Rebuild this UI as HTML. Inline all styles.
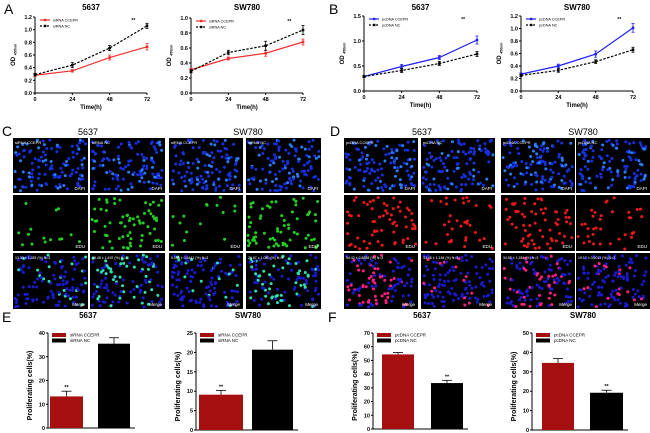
<!DOCTYPE html>
<html><head><meta charset="utf-8"><style>
body{margin:0;background:#fff;width:650px;height:433px;overflow:hidden;font-family:"Liberation Sans",Arial,sans-serif}
svg{position:absolute;left:0;top:0}
</style></head><body>
<svg id="fig" width="650" height="433" viewBox="0 0 650 433" xmlns="http://www.w3.org/2000/svg" font-family="Liberation Sans, Arial, sans-serif"></svg>
<script>
// ---- Panel A/B line chart data ----
const timeCats = [0, 24, 48, 72];
const aLeftSi = [0.28, 0.35, 0.56, 0.73];
const aLeftNc = [0.29, 0.44, 0.71, 1.06];
const aLeftSiErr = [0.02, 0.02, 0.04, 0.05];
const aLeftNcErr = [0.02, 0.04, 0.04, 0.04];
const aRightSi = [0.31, 0.46, 0.53, 0.68];
const aRightNc = [0.29, 0.54, 0.63, 0.84];
const aRightSiErr = [0.02, 0.02, 0.04, 0.04];
const aRightNcErr = [0.02, 0.03, 0.06, 0.06];
const bLeftPc = [0.29, 0.49, 0.67, 1.02];
const bLeftNc = [0.29, 0.41, 0.55, 0.74];
const bLeftPcErr = [0.02, 0.04, 0.04, 0.08];
const bLeftNcErr = [0.02, 0.04, 0.04, 0.05];
const bRightPc = [0.27, 0.40, 0.59, 1.01];
const bRightNc = [0.25, 0.33, 0.47, 0.66];
const bRightPcErr = [0.02, 0.03, 0.05, 0.07];
const bRightNcErr = [0.02, 0.03, 0.03, 0.04];
const aLeftTicks = [0, 0.2, 0.4, 0.6, 0.8, 1.0, 1.2];
const aRightTicks = [0, 0.2, 0.4, 0.6, 0.8, 1.0];
const bLeftTicks = [0, 0.5, 1.0, 1.5];
const bRightTicks = [0, 0.2, 0.4, 0.6, 0.8, 1.0, 1.2];
// ---- Panel E/F bar data ----
const eLeftVals = [13.3, 35.5];
const eLeftErr = [2.2, 2.5];
const eRightVals = [9.1, 20.7];
const eRightErr = [1.1, 2.3];
const fLeftVals = [54.4, 33.5];
const fLeftErr = [1.4, 2.0];
const fRightVals = [34.6, 19.2];
const fRightErr = [2.2, 1.3];
const eTicksL = [0, 10, 20, 30, 40];
const eTicksR = [0, 5, 10, 15, 20, 25];
const fTicksL = [0, 10, 20, 30, 40, 50, 60, 70];
const fTicksR = [0, 10, 20, 30, 40, 50];

const NS = "http://www.w3.org/2000/svg";
const fig = document.getElementById('fig');
function el(tag, attrs, parent, txt) {
  const e = document.createElementNS(NS, tag);
  for (const k in attrs) e.setAttribute(k, attrs[k]);
  if (txt !== undefined) e.textContent = txt;
  (parent || fig).appendChild(e);
  return e;
}
function fmt(v, d) { return v.toFixed(d); }

function lineChart(o) {
  const g = el('g', {});
  
  
  const x = v => o.x0 + (v / 72) * (o.x1 - o.x0);
  const y = v => o.y0 - (v / o.ymax) * (o.y0 - o.y1);
  const t = el('text', {x: (o.x0 + o.x1) / 2, y: 10, 'font-size': 8, 'font-weight': 'bold', 'text-anchor': 'middle'}, g, o.title);
  
  
  el('line', {x1: o.x0, y1: o.y0, x2: o.x1, y2: o.y0, stroke: '#000', 'stroke-width': 1}, g);
  el('line', {x1: o.x0, y1: o.y0, x2: o.x0, y2: o.y1, stroke: '#000', 'stroke-width': 1}, g);
  o.ticks.forEach(v => {
    el('line', {x1: o.x0 - 2, x2: o.x0, y1: y(v), y2: y(v), stroke: '#000'}, g);
    el('text', {x: o.x0 - 3, y: y(v) + 2, 'font-size': 5.5, 'font-weight': 'bold', 'text-anchor': 'end'}, g, fmt(v, 1));
  });
  timeCats.forEach(v => {
    el('line', {x1: x(v), x2: x(v), y1: o.y0, y2: o.y0 + 2, stroke: '#000'}, g);
    el('text', {x: x(v), y: o.y0 + 8, 'font-size': 5.5, 'font-weight': 'bold', 'text-anchor': 'middle'}, g, v);
  });
  const xt = el('text', {x: (o.x0 + o.x1) / 2, y: o.y0 + 16, 'font-size': 6, 'font-weight': 'bold', 'text-anchor': 'middle'}, g, 'Time(h)');
  
  
  const yt = el('text', {x: 0, y: 0, 'font-size': 6, 'font-weight': 'bold', 'text-anchor': 'middle', transform: `translate(${o.x0 - 20},${(o.y0 + o.y1) / 2}) rotate(-90)`}, g, 'OD ');
  el('tspan', {'font-size': 3.5, dy: 1.5}, yt, '450nm');
  
  
  o.series.forEach(s => {
    const pts = s.vals.map((v, i) => x(timeCats[i]) + ',' + y(v)).join(' ');
    const pl = el('polyline', {points: pts, fill: 'none', stroke: s.color, 'stroke-width': 1.2, 'stroke-dasharray': s.dash ? '2.5,1.5' : 'none'}, g);
    
    
    s.vals.forEach((v, i) => {
      const cx = x(timeCats[i]);
      el('line', {x1: cx, x2: cx, y1: y(v + s.err[i]), y2: y(v - s.err[i]), stroke: s.color, 'stroke-width': 0.8}, g);
      el('line', {x1: cx - 1.5, x2: cx + 1.5, y1: y(v + s.err[i]), y2: y(v + s.err[i]), stroke: s.color, 'stroke-width': 0.8}, g);
      el('line', {x1: cx - 1.5, x2: cx + 1.5, y1: y(v - s.err[i]), y2: y(v - s.err[i]), stroke: s.color, 'stroke-width': 0.8}, g);
      const p = el('rect', {x: cx - 1.3, y: y(v) - 1.3, width: 2.6, height: 2.6, fill: s.color}, g);
      
      
    });
  });
  o.series.forEach((s, i) => {
    const ly = o.y1 + 3 + i * 6;
    const lg = el('g', {}, g);
    
    
    el('line', {x1: o.x0 + 5, x2: o.x0 + 15, y1: ly, y2: ly, stroke: s.color, 'stroke-width': 1.2, 'stroke-dasharray': s.dash ? '2,1.5' : 'none'}, lg);
    el('rect', {x: o.x0 + 9, y: ly - 1.2, width: 2.4, height: 2.4, fill: s.color}, lg);
    el('text', {x: o.x0 + 18, y: ly + 1.5, 'font-size': 3.8}, lg, s.label);
  });
  el('text', {x: x(60) + 5, y: o.y1 + 5, 'font-size': 5, 'font-weight': 'bold', 'text-anchor': 'middle'}, g, '**');
}

lineChart({name: 'chart-a-5637', title: '5637', x0: 35, x1: 147, y0: 93, y1: 17, ymax: 1.2, ticks: aLeftTicks,
  series: [{key: 'sirna-ccepr', label: 'siRNA CCEPR', color: '#f03030', vals: aLeftSi, err: aLeftSiErr},
           {key: 'sirna-nc', label: 'siRNA NC', color: '#000', dash: true, vals: aLeftNc, err: aLeftNcErr}]});
lineChart({name: 'chart-a-sw780', title: 'SW780', x0: 191, x1: 303, y0: 93, y1: 18, ymax: 1.0, ticks: aRightTicks,
  series: [{key: 'sirna-ccepr', label: 'siRNA CCEPR', color: '#f03030', vals: aRightSi, err: aRightSiErr},
           {key: 'sirna-nc', label: 'siRNA NC', color: '#000', dash: true, vals: aRightNc, err: aRightNcErr}]});
lineChart({name: 'chart-b-5637', title: '5637', x0: 364, x1: 477, y0: 91, y1: 16, ymax: 1.5, ticks: bLeftTicks,
  series: [{key: 'pcdna-ccepr', label: 'pcDNA CCEPR', color: '#2020f0', vals: bLeftPc, err: bLeftPcErr},
           {key: 'pcdna-nc', label: 'pcDNA NC', color: '#000', dash: true, vals: bLeftNc, err: bLeftNcErr}]});
lineChart({name: 'chart-b-sw780', title: 'SW780', x0: 521, x1: 633, y0: 91, y1: 16, ymax: 1.2, ticks: bRightTicks,
  series: [{key: 'pcdna-ccepr', label: 'pcDNA CCEPR', color: '#2020f0', vals: bRightPc, err: bRightPcErr},
           {key: 'pcdna-nc', label: 'pcDNA NC', color: '#000', dash: true, vals: bRightNc, err: bRightNcErr}]});

function barChart(o) {
  const g = el('g', {});
  
  
  const y = v => o.y0 - (v / o.ymax) * (o.y0 - o.y1);
  const t = el('text', {x: o.tx, y: 318, 'font-size': 8, 'font-weight': 'bold', 'text-anchor': 'middle'}, g, o.title);
  
  
  el('line', {x1: o.x0, y1: o.y0, x2: o.x0, y2: o.y1, stroke: '#000', 'stroke-width': 1}, g);
  el('line', {x1: o.x0, y1: o.y0, x2: o.bars[1][1] + 5, y2: o.y0, stroke: '#000', 'stroke-width': 1}, g);
  o.ticks.forEach(v => {
    el('line', {x1: o.x0 - 2, x2: o.x0, y1: y(v), y2: y(v), stroke: '#000'}, g);
    el('text', {x: o.x0 - 3, y: y(v) + 2, 'font-size': 5.5, 'font-weight': 'bold', 'text-anchor': 'end'}, g, v);
  });
  const yt = el('text', {x: 0, y: 0, 'font-size': 7, 'font-weight': 'bold', 'text-anchor': 'middle', transform: `translate(${o.x0 - 16},${(o.y0 + o.y1) / 2 + 5}) rotate(-90)`}, g, 'Proliferating cells(%)');
  
  
  const colors = ['#a50f0f', '#000'];
  o.vals.forEach((v, i) => {
    const [bx0, bx1] = o.bars[i];
    const r = el('rect', {x: bx0, y: y(v), width: bx1 - bx0, height: o.y0 - y(v), fill: colors[i]}, g);
    
    
    const cx = (bx0 + bx1) / 2, ey = y(v + o.err[i]);
    el('line', {x1: cx, x2: cx, y1: ey, y2: y(v), stroke: '#000', 'stroke-width': 0.8}, g);
    el('line', {x1: cx - 5, x2: cx + 5, y1: ey, y2: ey, stroke: '#000', 'stroke-width': 0.8}, g);
    if (i === o.star) el('text', {x: cx, y: ey - 2, 'font-size': 5.5, 'font-weight': 'bold', 'text-anchor': 'middle'}, g, '**');
  });
  o.labels.forEach((lb, i) => {
    const lg = el('g', {}, g);
    
    
    el('rect', {x: o.x0 + 4, y: 333 + i * 5.5, width: 14, height: 4, fill: colors[i]}, lg);
    el('text', {x: o.x0 + 22, y: 336.5 + i * 5.5, 'font-size': 4.5}, lg, lb);
  });
}
barChart({name: 'chart-e-5637', title: '5637', tx: 88, x0: 48, y0: 428, y1: 333, ymax: 40, ticks: eTicksL, vals: eLeftVals, err: eLeftErr, bars: [[50, 83], [98, 130]], labels: ['siRNA CCEPR', 'siRNA NC'], star: 0});
barChart({name: 'chart-e-sw780', title: 'SW780', tx: 248, x0: 196, y0: 430, y1: 333, ymax: 25, ticks: eTicksR, vals: eRightVals, err: eRightErr, bars: [[199, 243], [252, 293]], labels: ['siRNA CCEPR', 'siRNA NC'], star: 0});
barChart({name: 'chart-f-5637', title: '5637', tx: 422, x0: 373, y0: 429, y1: 333, ymax: 70, ticks: fTicksL, vals: fLeftVals, err: fLeftErr, bars: [[382, 414], [431, 463]], labels: ['pcDNA CCEPR', 'pcDNA NC'], star: 1});
barChart({name: 'chart-f-sw780', title: 'SW780', tx: 583, x0: 532, y0: 430, y1: 333, ymax: 50, ticks: fTicksR, vals: fRightVals, err: fRightErr, bars: [[542, 574], [590, 623]], labels: ['pcDNA CCEPR', 'pcDNA NC'], star: 1});

// panel letters
[['A', 4, 14], ['B', 329, 14], ['C', 2, 136], ['D', 330, 136], ['E', 2, 322], ['F', 328, 322]].forEach(([l, x, y]) => {
  const t = el('text', {x: x, y: y, 'font-size': 14}, fig, l);
  
  
});
[['5637', 88, 135], ['SW780', 248, 135], ['5637', 422, 135], ['SW780', 583, 135]].forEach(([l, x, y]) => {
  const t = el('text', {x: x, y: y, 'font-size': 9, 'text-anchor': 'middle'}, fig, l);
  
  
});

// micrographs (decorative cell dots)
let seed = 7;
function rnd() { seed = (seed * 16807) % 2147483647; return seed / 2147483647; }
const colsC = [[13, 88], [90, 165], [169, 243], [246, 321]];
const colsD = [[344, 418], [421, 495], [501, 575], [576, 650]];
const rows = [[138, 193], [195, 251], [253, 309]];
function micro(cols, stain, names, stats) {
  cols.forEach(([x0, x1], c) => {
    rows.forEach(([y0, y1], r) => {
      const g = el('g', {});
      
      
      el('rect', {x: x0, y: y0, width: x1 - x0, height: y1 - y0, fill: '#000'}, g);
      const dense = c % 2 === (stain === 'g' ? 1 : 0);
      const n = r === 1 ? (dense ? 65 : (stain === 'g' ? 15 : 35)) : 115;
      for (let i = 0; i < n; i++) {
        const cx = x0 + 2 + rnd() * (x1 - x0 - 4), cy = y0 + 2 + rnd() * (y1 - y0 - 4);
        let col;
        if (r === 0) col = rnd() < 0.3 ? '#2a7cff' : '#1530e0';
        else if (r === 1) col = stain === 'g' ? '#22d022' : '#ee1818';
        else col = rnd() < (dense ? 0.4 : 0.15) ? (stain === 'g' ? '#30e0b0' : '#ff2080') : '#1a1ad0';
        el('circle', {cx: cx, cy: cy, r: 1.5, fill: col}, g);
      }
      const lbl = ['DAPI', 'EDU', 'Merge'][r];
      el('text', {x: x1 - 3, y: y1 - 3, 'font-size': 4.5, fill: '#fff', 'text-anchor': 'end'}, g, lbl);
      if (r === 0) el('text', {x: x0 + 2, y: y0 + 6, 'font-size': 4, fill: '#fff'}, g, names[c]);
      if (r === 2) el('text', {x: x0 + 2, y: y0 + 6, 'font-size': 3.5, fill: '#fff'}, g, stats[c]);
    });
  });
}
micro(colsC, 'g', ['siRNA CCEPR', 'siRNA NC', 'siRNA CCEPR', 'siRNA NC'], ['13.33 ± 1.283 (%) N=3', '35.48 ± 1.492 (%) N=3', '9.055 ± 0.6441 (%) N=3', '20.67 ± 1.080 (%) N=3']);
micro(colsD, 'r', ['pcDNA CCEPR', 'pcDNA NC', 'pcDNA CCEPR', 'pcDNA NC'], ['54.42 ± 0.8858 (%) N=3', '33.48 ± 1.148 (%) N=3', '34.58 ± 1.284 (%) N=3', '19.17 ± 0.6011 (%) N=3']);
</script>
</body></html>
